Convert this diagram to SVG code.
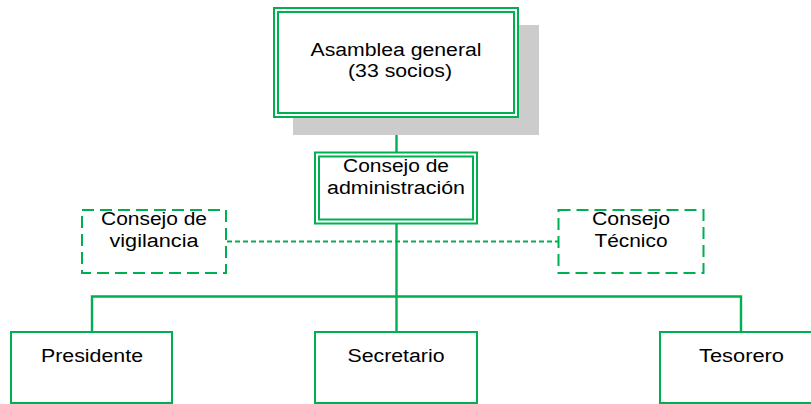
<svg xmlns="http://www.w3.org/2000/svg" width="811" height="404" viewBox="0 0 811 404">
<style>
.t{font-family:"Liberation Sans",Arial,sans-serif;font-size:18px;fill:#000;text-anchor:middle}
.b{fill:#fff;stroke:#00B050;stroke-width:2}
.bd{fill:none;stroke:#00B050;stroke-width:2}
.dash{fill:#fff;stroke:#00B050;stroke-width:2;stroke-dasharray:12 6}
.c{fill:none;stroke:#00B050;stroke-width:2.4}
.dot{fill:none;stroke:#00B050;stroke-width:2;stroke-dasharray:5 3}
</style>
<rect width="811" height="404" fill="#fff"/>
<g id="connectors">
<line class="c" x1="396.5" y1="117" x2="396.5" y2="152"/>
<line class="c" x1="396.5" y1="224" x2="396.5" y2="332"/>
<polyline class="c" points="92,332 92,296.5 741,296.5 741,332"/>
<line class="dot" x1="227" y1="241.5" x2="558" y2="241.5"/>
</g>
<g id="asamblea">
<rect x="293" y="25" width="246" height="110" fill="#CCCCCC"/>
<rect class="b" x="274" y="8" width="244" height="109"/>
<rect class="bd" x="278" y="12" width="236" height="101"/>
<text class="t" x="396" y="56" textLength="171" lengthAdjust="spacingAndGlyphs">Asamblea general</text>
<text class="t" x="400" y="77" textLength="104" lengthAdjust="spacingAndGlyphs">(33 socios)</text>
</g>
<g id="consejo-admin">
<rect class="b" x="315" y="152.5" width="162" height="71"/>
<rect class="bd" x="319" y="156.5" width="154" height="63"/>
<text class="t" x="396" y="172" textLength="106" lengthAdjust="spacingAndGlyphs">Consejo de</text>
<text class="t" x="396" y="194" textLength="138" lengthAdjust="spacingAndGlyphs">administración</text>
</g>
<g id="vigilancia">
<rect class="dash" x="82" y="210" width="144" height="63"/>
<text class="t" x="154" y="225" textLength="106" lengthAdjust="spacingAndGlyphs">Consejo de</text>
<text class="t" x="154" y="247" textLength="89" lengthAdjust="spacingAndGlyphs">vigilancia</text>
</g>
<g id="tecnico">
<rect class="dash" x="558.5" y="210" width="145" height="63"/>
<text class="t" x="631" y="225" textLength="78" lengthAdjust="spacingAndGlyphs">Consejo</text>
<text class="t" x="631" y="247" textLength="73" lengthAdjust="spacingAndGlyphs">Técnico</text>
</g>
<g id="presidente">
<rect class="b" x="11" y="332" width="161" height="71"/>
<text class="t" x="92" y="362" textLength="102" lengthAdjust="spacingAndGlyphs">Presidente</text>
</g>
<g id="secretario">
<rect class="b" x="315" y="332" width="162" height="71"/>
<text class="t" x="396" y="362" textLength="97" lengthAdjust="spacingAndGlyphs">Secretario</text>
</g>
<g id="tesorero">
<rect class="b" x="660" y="332" width="162" height="71"/>
<text class="t" x="741.5" y="362" textLength="85" lengthAdjust="spacingAndGlyphs">Tesorero</text>
</g>
</svg>
